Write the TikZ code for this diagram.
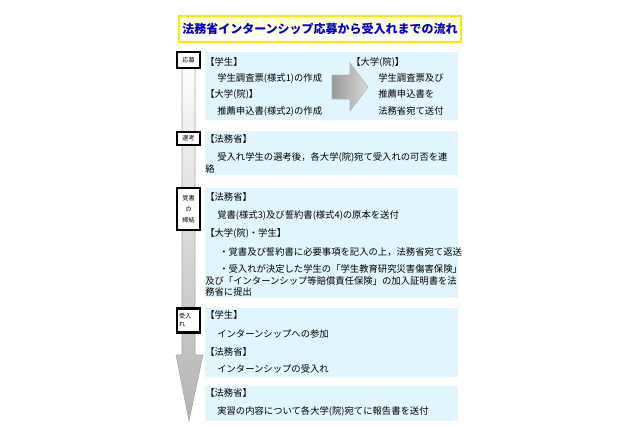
\documentclass[tikz,border=0pt]{standalone}
\usepackage{fontspec}
\setmainfont{Noto Sans CJK JP}
\usetikzlibrary{shadings}
\begin{document}
\begin{tikzpicture}[x=0.75pt,y=-0.75pt,
  lbl/.style={draw=black, line width=1.6pt, fill=white},
  tx/.style={anchor=west, inner sep=0pt, font=\fontsize{7}{9}\selectfont},
  sm/.style={font=\fontsize{4.6}{6}\selectfont, inner sep=0pt, align=center}]
\useasboundingbox (0,0) rectangle (640,426);
% title
\node[draw=yellow!90!orange, line width=1.5pt, top color=yellow!20, bottom color=white, minimum width=282*0.75pt, minimum height=26*0.75pt, inner sep=0pt, font=\fontsize{9}{11}\selectfont\bfseries, text=blue!80!black] (title) at (320,29) {法務省インターンシップ応募から受入れまでの流れ};
% big arrow
\shade[top color=white, bottom color=gray!60] (182,55) -- (195,55) -- (195,355) -- (203,355) -- (189,421) -- (176,355) -- (182,355) -- cycle;
\draw[gray!70, line width=0.4pt] (182,55) -- (195,55) -- (195,355) -- (203,355) -- (189,421) -- (176,355) -- (182,355) -- cycle;
% cyan boxes
\fill[cyan!12] (205,52) rectangle (458,120);
\fill[cyan!12] (205,131) rectangle (458,175);
\fill[cyan!12] (205,188) rectangle (458,298);
\fill[cyan!12] (205,308) rectangle (458,377);
\fill[cyan!12] (205,386) rectangle (458,421);
% labels
\node[lbl, minimum width=17pt, minimum height=12pt, sm] (l1) at (188.5,60) {応募};
\node[lbl, minimum width=17pt, minimum height=10pt, sm] (l2) at (188.5,138.5) {選考};
\node[lbl, minimum width=17pt, minimum height=31pt, sm] (l3) at (188.5,209) {覚書\\[2pt]の\\[2pt]締結};
\node[lbl, minimum width=17pt, minimum height=18pt, sm, align=left, text width=14pt] (l4) at (188.5,320.5) {受入\\れ};
% box1
\node[tx] (a1) at (205,62) {【学生】};
\node[tx] (a2) at (217,78) {学生調査票(様式1)の作成};
\node[tx] (a3) at (205,94) {【大学(院)】};
\node[tx] (a4) at (217,111) {推薦申込書(様式2)の作成};
\node[tx] (b1) at (351,62) {【大学(院)】};
\node[tx] (b2) at (378,78) {学生調査票及び};
\node[tx] (b3) at (378,94) {推薦申込書を};
\node[tx] (b4) at (378,111) {法務省宛て送付};
\shade[left color=gray!80, right color=gray!30, draw=gray!60] (332,75) -- (350,75) -- (350,63) -- (368,87) -- (350,111) -- (350,99) -- (332,99) -- cycle;
% box2
\node[tx] (c1) at (205,139) {【法務省】};
\node[tx] (c2) at (217,157) {受入れ学生の選考後，各大学(院)宛て受入れの可否を連};
\node[tx] (c3) at (205,169) {絡};
% box3
\node[tx] (d1) at (205,197) {【法務省】};
\node[tx] (d2) at (217,215) {覚書(様式3)及び誓約書(様式4)の原本を送付};
\node[tx] (d3) at (205,233) {【大学(院)・学生】};
\node[tx] (d4) at (219,252) {・覚書及び誓約書に必要事項を記入の上，法務省宛て返送};
\node[tx] (d5) at (219,269) {・受入れが決定した学生の「学生教育研究災害傷害保険」};
\node[tx] (d6) at (205,281) {及び「インターンシップ等賠償責任保険」の加入証明書を法};
\node[tx] (d7) at (205,292) {務省に提出};
% box4
\node[tx] (e1) at (205,315) {【学生】};
\node[tx] (e2) at (217,334) {インターンシップへの参加};
\node[tx] (e3) at (205,352) {【法務省】};
\node[tx] (e4) at (217,369) {インターンシップの受入れ};
% box5
\node[tx] (f1) at (205,393) {【法務省】};
\node[tx] (f2) at (217,411) {実習の内容について各大学(院)宛てに報告書を送付};
\end{tikzpicture}
\end{document}
